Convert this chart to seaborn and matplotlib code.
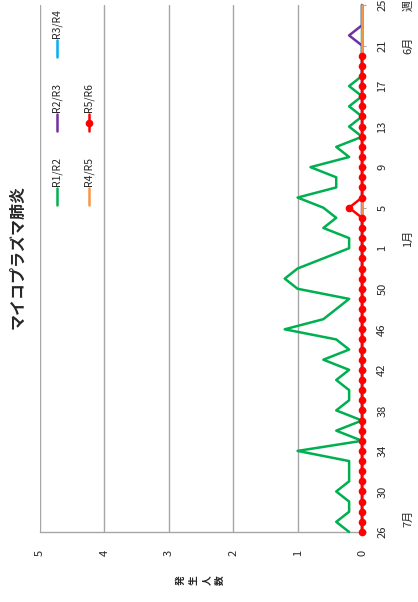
import matplotlib
matplotlib.use("Agg")
import matplotlib.pyplot as plt
import matplotlib.transforms as mtransforms
from matplotlib.lines import Line2D
import numpy as np
import seaborn as sns

# Weeks from week 26 to week 25 of the next season (53 weeks)
weeks = list(range(26, 54)) + list(range(1, 26))
idx = np.arange(len(weeks))

# Values per sentinel
r1_r2 = [0.2, 0.4, 0.2, 0.2, 0.4, 0.2, 0.2, 0.2, 1.0, 0.0,
         0.4, 0.0, 0.4, 0.2, 0.2, 0.4, 0.2, 0.6, 0.2, 0.4,
         1.2, 0.6, 0.4, 0.2, 1.0, 1.2, 1.0, 0.6, 0.2, 0.2,
         0.6, 0.4, 0.6, 1.0, 0.4, 0.4, 0.8, 0.2, 0.4, 0.0,
         0.2, 0.0, 0.2, 0.0, 0.2, 0.0, 0.0, 0.0, 0.0, 0.0,
         0.0, 0.0, 0.0]
r2_r3 = [0.0] * 49 + [0.2] + [0.0] * 3
r3_r4 = [0.0] * 53
r4_r5 = [0.0] * 53
r5_r6 = [0.0] * 32 + [0.2] + [0.0] * 15 + [np.nan] * 5

series_labels = ["R1/R2", "R2/R3", "R3/R4", "R4/R5", "R5/R6"]
series_values = [r1_r2, r2_r3, r3_r4, r4_r5, r5_r6]
series_colors = ["#00B050", "#7030A0", "#00B0F0", "#F79646", "#FF0000"]

month_labels = ["7月", "1月", "6月", "週"]
month_pos = [1.3, 29, 48, 52]

W, H = 418, 602

sns.set_style("white")
plt.rcParams["font.family"] = ["Noto Sans CJK JP", "DejaVu Sans"]

fig = plt.figure(figsize=(W / 100, H / 100), dpi=100)
ax = fig.add_axes([40 / W, 1 - 532 / H, (362 - 40) / W, (532 - 5) / H])

# The chart is drawn turned a quarter turn: value runs right-to-left, weeks upwards
for label, vals, color in zip(series_labels, series_values, series_colors):
    marker = "o" if label == "R5/R6" else None
    sns.lineplot(x=vals, y=idx, orient="y", ax=ax, color=color, lw=1.8,
                 marker=marker, markersize=5.5, markeredgewidth=0,
                 clip_on=False, errorbar=None, zorder=3)

ax.set_xlim(5, 0)
ax.set_ylim(0, 52)
ax.set_xticks(range(0, 6))
ax.set_xticklabels([str(v) for v in range(0, 6)], rotation=90, fontsize=8)
ax.xaxis.grid(True, color="#A6A6A6", lw=1)
ax.yaxis.grid(False)

tick_idx = idx[::4]
ax.yaxis.tick_right()
ax.set_yticks(tick_idx)
ax.set_yticklabels([str(weeks[i]) for i in tick_idx], rotation=90, va="center", fontsize=8)
ax.tick_params(axis="y", length=3, color="#A6A6A6", pad=8)
ax.tick_params(axis="x", length=0, pad=13)

for side in ["top", "left"]:
    ax.spines[side].set_visible(False)
for side in ["right", "bottom"]:
    ax.spines[side].set_color("#A6A6A6")
    ax.spines[side].set_linewidth(1)
ax.set_xlabel("")
ax.set_ylabel("")

# Month labels beside the week axis
trans = mtransforms.blended_transform_factory(fig.transFigure, ax.transData)
for text, pos in zip(month_labels, month_pos):
    fig.text(408 / W, pos, text, transform=trans, rotation=90,
             ha="center", va="center", fontsize=8)

# Title
fig.text(17 / W, 1 - 257 / H, "マイコプラズマ肺炎", rotation=90,
         ha="center", va="center", fontsize=11.5, fontweight="bold")

# Value axis title, each character turned with the chart
ylabel = "発生人数"
for k, ch in enumerate(ylabel):
    fig.text((181 + k * 13) / W, 1 - 580 / H, ch, rotation=90,
             ha="center", va="center", fontsize=7, fontweight="bold")

# Legend drawn by hand (turned with the chart)
col_bottom = [205, 131, 57]
row_x = [57, 89]
for n, (label, color) in enumerate(zip(series_labels, series_colors)):
    x = row_x[n // 3]
    yb = col_bottom[n % 3]
    fig.add_artist(Line2D([x / W, x / W], [1 - yb / H, 1 - (yb - 17) / H],
                          transform=fig.transFigure, color=color, lw=1.8))
    if label == "R5/R6":
        fig.add_artist(Line2D([x / W], [1 - (yb - 8.5) / H], transform=fig.transFigure,
                              color=color, marker="o", markersize=5.5, markeredgewidth=0))
    fig.text(x / W, 1 - (yb - 19) / H, label, rotation=90,
             ha="center", va="bottom", fontsize=7.5)

fig.savefig("out.png", dpi=100)
